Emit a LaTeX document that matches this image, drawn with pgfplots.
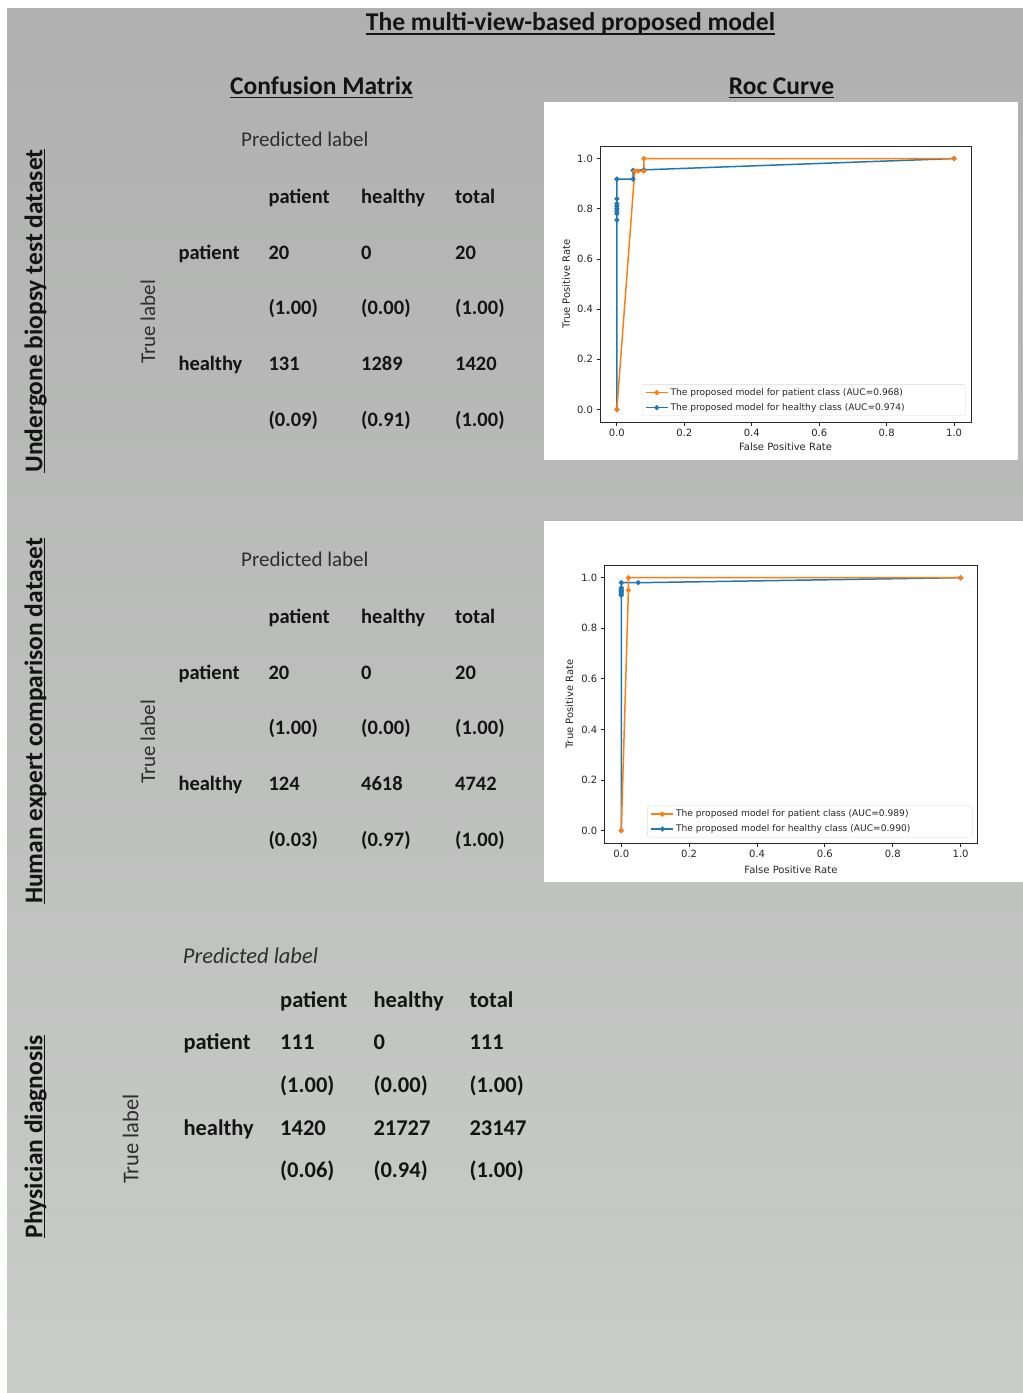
\documentclass[border=0pt]{standalone}
\usepackage{pgfplots}
\pgfplotsset{compat=1.18}
\usepackage{fontspec}
\setmainfont{Carlito}
\newfontfamily\dv{DejaVu Sans}
\usetikzlibrary{calc}
\definecolor{mplorange}{HTML}{FF7F0E}
\definecolor{mplblue}{HTML}{1F77B4}
\definecolor{bgtop}{HTML}{AFB0AF}
\definecolor{bgbot}{HTML}{CACCCA}
\definecolor{ink}{HTML}{141414}
\definecolor{soft}{HTML}{2E2E2E}
\newcommand{\fs}[1]{\fontsize{#1}{#1}\selectfont}

\pgfplotsset{
  rocstyle/.style={
    scale only axis,
    xmin=-0.05, xmax=1.05, ymin=-0.05, ymax=1.05,
    xtick={0,0.2,0.4,0.6,0.8,1}, ytick={0,0.2,0.4,0.6,0.8,1},
    xtick pos=bottom, ytick pos=left, tick align=outside,
    major tick length=3.5pt,
    tick style={black!85, line width=0.8pt},
    axis line style={black!85, line width=0.9pt},
    ticklabel style={font=\dv\fs{10}, text=black!85},
    /pgf/number format/.cd, fixed, fixed zerofill, precision=1, assume math mode=true,
    /pgfplots/.cd,
    label style={font=\dv\fs{10}, text=black!85},
    legend cell align=left,
    reverse legend,
    legend image code/.code={\draw[mark repeat=2,mark phase=2] plot coordinates {(0pt,0pt) (11pt,0pt) (22pt,0pt)};},
    legend style={anchor=south east, draw=black!15, rounded corners=2pt,
      font=\dv\fs{9.1}, text=black!85, row sep=2.5pt, inner ysep=2pt},
    every axis plot/.append style={line width=1.5pt, mark=*, mark size=1.7pt},
  }
}

\begin{document}
\begin{tikzpicture}
\begin{scope}[x=1pt,y=-1pt]
% background
\fill[white] (0,0) rectangle (1023,1393);
\shade[top color=bgtop, bottom color=bgbot] (7,8) rectangle (1023,1393);
\fill[white] (544,102) rectangle (1018,460);
\fill[white] (544,521) rectangle (1023,882);

% titles
\begin{scope}[every node/.style={inner sep=0pt}]
\node[anchor=base, text=ink, font=\bfseries\fs{25.6}] (t0) at (570.5,30.5) {The multi-view-based proposed model};
\draw[ink, line width=1.4pt] ($(t0.base west)+(0,-3.5pt)$) -- ($(t0.base east)+(0,-3.5pt)$);
\node[anchor=base, text=ink, font=\bfseries\fs{25.5}] (t1) at (321.5,94) {Confusion Matrix};
\draw[ink, line width=1.4pt] ($(t1.base west)+(0,-3.5pt)$) -- ($(t1.base east)+(0,-3.5pt)$);
\node[anchor=base, text=ink, font=\bfseries\fs{25.5}] (t2) at (781.5,94) {Roc Curve};
\draw[ink, line width=1.4pt] ($(t2.base west)+(0,-3.5pt)$) -- ($(t2.base east)+(0,-3.5pt)$);

% row headings
\node[rotate=90, anchor=base, text=ink, font=\bfseries\fs{25.5}] (h1) at (42.3,311) {Undergone biopsy test dataset};
\draw[ink, line width=1.4pt] ($(h1.base west)+(2.3pt,0)$) -- ($(h1.base east)+(2.3pt,0)$);
\node[rotate=90, anchor=base, text=ink, font=\bfseries\fs{25.5}] (h2) at (42.3,721) {Human expert comparison dataset};
\draw[ink, line width=1.4pt] ($(h2.base west)+(2.3pt,0)$) -- ($(h2.base east)+(2.3pt,0)$);
\node[rotate=90, anchor=base, text=ink, font=\bfseries\fs{25.5}] (h3) at (42.3,1136.7) {Physician diagnosis};
\draw[ink, line width=1.4pt] ($(h3.base west)+(2.3pt,0)$) -- ($(h3.base east)+(2.3pt,0)$);
\end{scope}

% matrix 1
\begin{scope}[every node/.style={inner sep=0pt, anchor=base west, text=ink, font=\bfseries\fs{20.5}}]
\node[font=\fs{21}, text=soft] at (241,146.7) {Predicted label};
\node[font=\fs{21}, text=soft, rotate=90, anchor=base] at (155,321.7) {True label};
\node at (268.3,203) {patient}; \node at (361,203) {healthy}; \node at (455,203) {total};
\node at (178.3,259) {patient}; \node at (268.3,259) {20}; \node at (361,259) {0}; \node at (455,259) {20};
\node at (268.3,314.5) {(1.00)}; \node at (361,314.5) {(0.00)}; \node at (455,314.5) {(1.00)};
\node at (178.3,370) {healthy}; \node at (268.3,370) {131}; \node at (361,370) {1289}; \node at (455,370) {1420};
\node at (268.3,426) {(0.09)}; \node at (361,426) {(0.91)}; \node at (455,426) {(1.00)};
\end{scope}

% matrix 2
\begin{scope}[yshift=-420pt, every node/.style={inner sep=0pt, anchor=base west, text=ink, font=\bfseries\fs{20.5}}]
\node[font=\fs{21}, text=soft] at (241,146.7) {Predicted label};
\node[font=\fs{21}, text=soft, rotate=90, anchor=base] at (155,321.7) {True label};
\node at (268.3,203) {patient}; \node at (361,203) {healthy}; \node at (455,203) {total};
\node at (178.3,259) {patient}; \node at (268.3,259) {20}; \node at (361,259) {0}; \node at (455,259) {20};
\node at (268.3,314.5) {(1.00)}; \node at (361,314.5) {(0.00)}; \node at (455,314.5) {(1.00)};
\node at (178.3,370) {healthy}; \node at (268.3,370) {124}; \node at (361,370) {4618}; \node at (455,370) {4742};
\node at (268.3,426) {(0.03)}; \node at (361,426) {(0.97)}; \node at (455,426) {(1.00)};
\end{scope}

% matrix 3
\begin{scope}[every node/.style={inner sep=0pt, anchor=base west, text=ink, font=\bfseries\fs{22.5}}]
\node[font=\itshape\fs{22.5}, text=soft] at (182.7,963.3) {Predicted label};
\node[font=\fs{22.5}, text=soft, rotate=90, anchor=base] at (138.3,1139) {True label};
\node at (280,1007.3) {patient}; \node at (373.3,1007.3) {healthy}; \node at (469.3,1007.3) {total};
\node at (183.3,1049.5) {patient}; \node at (280,1049.5) {111}; \node at (373.3,1049.5) {0}; \node at (469.3,1049.5) {111};
\node at (280,1092.3) {(1.00)}; \node at (373.3,1092.3) {(0.00)}; \node at (469.3,1092.3) {(1.00)};
\node at (183.3,1135) {healthy}; \node at (280,1135) {1420}; \node at (373.3,1135) {21727}; \node at (469.3,1135) {23147};
\node at (280,1177.7) {(0.06)}; \node at (373.3,1177.7) {(0.94)}; \node at (469.3,1177.7) {(1.00)};
\end{scope}
\end{scope}

% ROC 1
\begin{axis}[rocstyle, width=371pt, height=276pt, at={(600pt,-422pt)}, anchor=south west,
  xlabel={False Positive Rate}, ylabel={True Positive Rate},
  xlabel style={at={(axis description cs:0.5,-0.0895)}, anchor=center},
  ylabel style={at={(axis description cs:-0.0916,0.5)}, anchor=center, rotate=0},
  legend style={at={(0.9857,0.022)}}]
\addplot[mplblue] coordinates {(0,0) (0,0.755) (0,0.78) (0,0.79) (0,0.80) (0,0.81) (0,0.82) (0,0.84) (0,0.918) (0.048,0.918) (0.048,0.953) (0.08,0.955) (1,1)};
\addlegendentry{\makebox[290pt][l]{The proposed model for healthy class (AUC=0.974)}}
\addplot[mplorange] coordinates {(0,0) (0.053,0.95) (0.063,0.95) (0.08,0.95) (0.08,1.0) (1,1)};
\addlegendentry{\makebox[290pt][l]{The proposed model for patient class (AUC=0.968)}}
\end{axis}

% ROC 2
\begin{axis}[rocstyle, width=373.3pt, height=278.3pt, at={(604.3pt,-843.3pt)}, anchor=south west,
  xlabel={False Positive Rate}, ylabel={True Positive Rate},
  xlabel style={at={(axis description cs:0.5,-0.0934)}, anchor=center},
  ylabel style={at={(axis description cs:-0.0938,0.5)}, anchor=center, rotate=0},
  legend style={at={(0.9858,0.021)}}]
\addplot[mplblue] coordinates {(0,0) (0,0.93) (0,0.935) (0,0.94) (0,0.945) (0,0.95) (0,0.955) (0,0.96) (0,0.98) (0.05,0.98) (1,1)};
\addlegendentry{\makebox[291pt][l]{The proposed model for healthy class (AUC=0.990)}}
\addplot[mplorange] coordinates {(0,0) (0.021,0.95) (0.021,1.0) (1,1)};
\addlegendentry{\makebox[291pt][l]{The proposed model for patient class (AUC=0.989)}}
\end{axis}
\end{tikzpicture}
\end{document}
